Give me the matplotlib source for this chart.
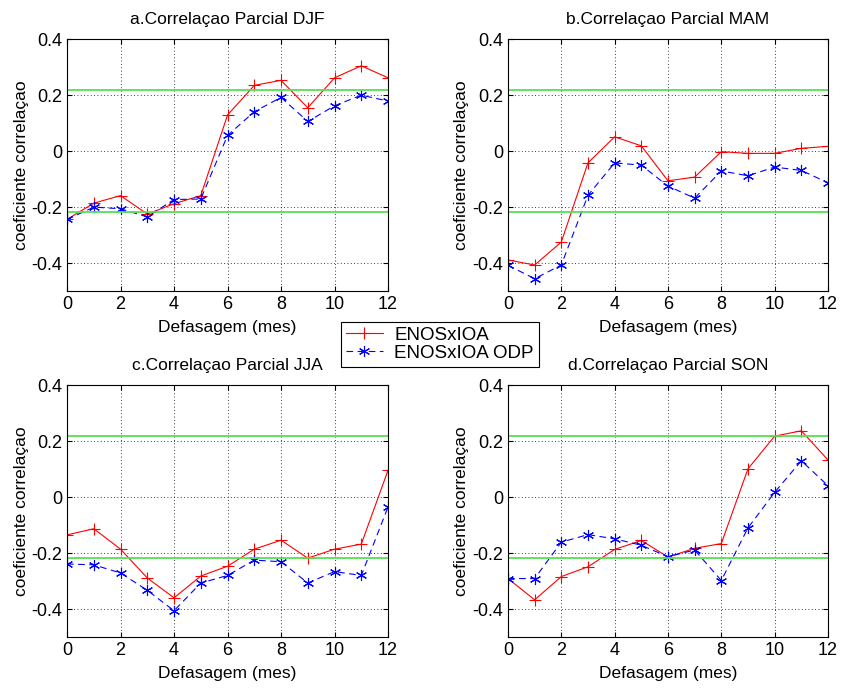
import numpy as np
import matplotlib.pyplot as plt

plt.rcParams['font.family'] = ['Liberation Sans', 'DejaVu Sans']
plt.rcParams['font.size'] = 12.5

lags = np.arange(13)

# ENOSxIOA (red) and ENOSxIOA ODP (blue) partial correlations per season
djf_red = [-0.244, -0.186, -0.159, -0.225, -0.188, -0.159, 0.129, 0.235, 0.253, 0.155, 0.262, 0.305, 0.262]
djf_blue = [-0.244, -0.200, -0.206, -0.235, -0.173, -0.171, 0.056, 0.141, 0.192, 0.106, 0.162, 0.200, 0.179]
mam_red = [-0.389, -0.407, -0.325, -0.042, 0.051, 0.019, -0.106, -0.093, -0.002, -0.008, -0.008, 0.010, 0.017]
mam_blue = [-0.408, -0.456, -0.407, -0.158, -0.042, -0.050, -0.125, -0.168, -0.071, -0.088, -0.057, -0.069, -0.113]
jja_red = [-0.135, -0.113, -0.186, -0.289, -0.360, -0.282, -0.247, -0.186, -0.154, -0.218, -0.186, -0.168, 0.096]
jja_blue = [-0.239, -0.242, -0.271, -0.333, -0.406, -0.307, -0.280, -0.225, -0.231, -0.307, -0.266, -0.280, -0.035]
son_red = [-0.291, -0.367, -0.284, -0.249, -0.187, -0.155, -0.214, -0.183, -0.166, 0.101, 0.218, 0.237, 0.133]
son_blue = [-0.291, -0.291, -0.161, -0.134, -0.149, -0.172, -0.213, -0.189, -0.298, -0.110, 0.017, 0.130, 0.041]

titles = ['a.Correlaçao Parcial DJF', 'b.Correlaçao Parcial MAM',
          'c.Correlaçao Parcial JJA', 'd.Correlaçao Parcial SON']
signif = 0.218

fig = plt.figure(figsize=(8.41, 6.88), dpi=100)
positions = [[0.0797, 0.577, 0.3817, 0.366], [0.604, 0.577, 0.3805, 0.366],
             [0.0797, 0.0741, 0.3817, 0.366], [0.604, 0.0741, 0.3805, 0.366]]
series = [(djf_red, djf_blue), (mam_red, mam_blue), (jja_red, jja_blue), (son_red, son_blue)]

for pos, (red, blue), title in zip(positions, series, titles):
    ax = fig.add_axes(pos)
    l1, = ax.plot(lags, red, color='red', marker='+', markersize=9, markeredgewidth=0.8,
                  linewidth=0.8, label='ENOSxIOA')
    l2, = ax.plot(lags, blue, color='blue', marker=(6, 2, 0), markersize=8,
                  markeredgewidth=0.8, linewidth=0.8, linestyle=(0, (6, 4)),
                  label='ENOSxIOA ODP')
    ax.axhline(signif, color='#55e055', linewidth=1.3)
    ax.axhline(-signif, color='#55e055', linewidth=1.3)
    ax.set_xlim(0, 12)
    ax.set_ylim(-0.5, 0.4)
    ax.set_xticks(np.arange(0, 13, 2))
    ax.set_yticks([-0.4, -0.2, 0, 0.2, 0.4])
    ax.set_yticklabels(['-0.4', '-0.2', '0', '0.2', '0.4'])
    ax.tick_params(direction='in', top=True, right=True, labelsize=13)
    ax.grid(True, color='black', linestyle=(0, (1, 3)), linewidth=0.6)
    ax.set_title(title, fontsize=12.5, pad=11)
    ax.set_xlabel('Defasagem (mes)', fontsize=12.5, labelpad=5)
    ax.set_ylabel('coeficiente correlaçao', fontsize=12.5, labelpad=2)

leg = fig.legend(handles=[l1, l2], loc='upper left', bbox_to_anchor=(0.4055, 0.532),
                 fancybox=False, edgecolor='black', framealpha=1, fontsize=13.5,
                 borderaxespad=0, handlelength=2.0, labelspacing=0.05,
                 borderpad=0.25, handletextpad=0.6)
leg.get_frame().set_linewidth(0.8)

fig.savefig('out.png', dpi=100)
